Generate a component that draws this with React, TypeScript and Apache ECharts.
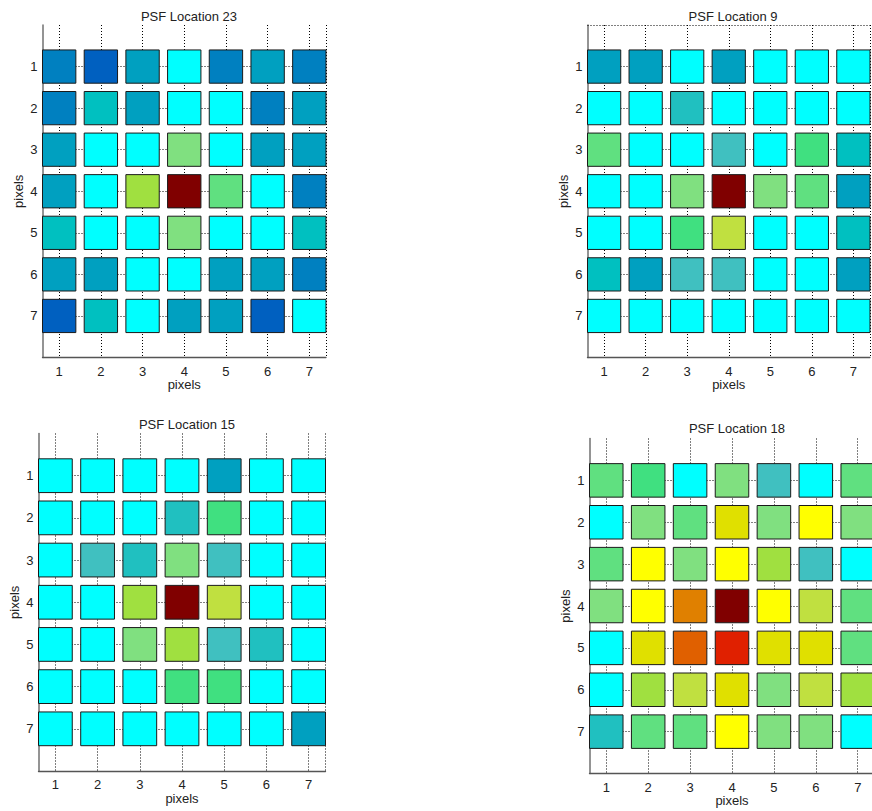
import React, { useEffect, useRef } from "react";
import * as echarts from "echarts";

// ---- data ----
const TICKS = [1, 2, 3, 4, 5, 6, 7];
const X_GRID = [1, 2, 3, 4, 5, 6, 7, 7.4];
const Y_GRID = [1, 2, 3, 4, 5, 6, 7];
const TITLES = ["PSF Location 23", "PSF Location 9", "PSF Location 15", "PSF Location 18"];
// colour levels, low -> high (quantised jet-like palette)
const PALETTE = [
  "#0060C0", "#0080C0", "#00A0C0", "#00C0C0", "#20C0C0", "#40C0C0",
  "#00FFFF", "#40E080", "#60E080", "#80E080", "#A0E040", "#C0E040",
  "#E0E000", "#FFFF00", "#E08000", "#E06000", "#E02000", "#800000",
];
// rows 1..7 (top to bottom), columns 1..7
const LOC23 = [
  [1, 0, 2, 6, 1, 2, 1],
  [1, 3, 2, 6, 6, 1, 2],
  [2, 6, 6, 9, 6, 2, 2],
  [2, 6, 10, 17, 8, 6, 1],
  [3, 6, 6, 9, 6, 6, 3],
  [2, 2, 6, 6, 2, 2, 1],
  [0, 3, 6, 2, 2, 0, 6],
];
const LOC9 = [
  [2, 2, 6, 2, 6, 6, 6],
  [6, 6, 4, 6, 6, 6, 6],
  [8, 6, 6, 5, 6, 7, 3],
  [6, 6, 9, 17, 9, 8, 2],
  [6, 6, 7, 11, 6, 6, 3],
  [3, 2, 5, 5, 6, 6, 2],
  [6, 6, 6, 6, 6, 6, 6],
];
const LOC15 = [
  [6, 6, 6, 6, 2, 6, 6],
  [6, 6, 6, 4, 7, 6, 6],
  [6, 5, 4, 9, 5, 6, 6],
  [6, 6, 10, 17, 11, 6, 6],
  [6, 6, 9, 10, 5, 4, 6],
  [6, 6, 6, 7, 7, 6, 6],
  [6, 6, 6, 6, 6, 6, 2],
];
const LOC18 = [
  [8, 7, 6, 9, 5, 6, 8],
  [6, 9, 8, 12, 9, 13, 9],
  [8, 13, 9, 13, 10, 5, 6],
  [9, 13, 14, 17, 13, 11, 8],
  [6, 12, 15, 16, 12, 12, 8],
  [6, 10, 11, 12, 9, 11, 10],
  [4, 8, 8, 13, 9, 9, 6],
];
const PANELS = [LOC23, LOC9, LOC15, LOC18];
const TOP_GRID = [false, true, false, false];

// ---- layout ----
const GRIDS = [
  { left: 42.5, top: 25, width: 283.5, height: 332.5 },
  { left: 587.5, top: 25, width: 282.5, height: 332.5 },
  { left: 38.5, top: 433.5, width: 287, height: 337.5 },
  { left: 589.5, top: 438.5, width: 285, height: 335 },
];
const TITLE_POS = [
  { x: 184, y: 5 },
  { x: 728, y: 5 },
  { x: 182, y: 413 },
  { x: 732, y: 417 },
];
const FONT = "'Liberation Sans', Arial, sans-serif";

function toCells(m: number[][]) {
  const out: number[][] = [];
  m.forEach((row, r) => row.forEach((v, c) => out.push([c + 1, r + 1, v])));
  return out;
}

export default function App() {
  const ref = useRef<HTMLDivElement>(null);
  useEffect(() => {
    if (!ref.current) return;
    const chart = echarts.init(ref.current, null, { renderer: "svg" });
    const series: any[] = [];
    PANELS.forEach((m, i) => {
      const yLines = TOP_GRID[i] ? [0, ...Y_GRID] : Y_GRID;
      series.push({
        type: "custom",
        xAxisIndex: i,
        yAxisIndex: i,
        z: 3,
        data: toCells(m),
        encode: { x: 0, y: 1 },
        renderItem: (params: any, api: any) => {
          const x = api.value(0);
          const y = api.value(1);
          const p0 = api.coord([x - 0.4, y - 0.4]);
          const p1 = api.coord([x + 0.4, y + 0.4]);
          return {
            type: "rect",
            shape: {
              x: Math.min(p0[0], p1[0]),
              y: Math.min(p0[1], p1[1]),
              width: Math.abs(p1[0] - p0[0]),
              height: Math.abs(p1[1] - p0[1]),
            },
            style: { fill: api.visual("color"), stroke: "#1a1a1a", lineWidth: 1 },
          };
        },
        markLine: {
          z: 1,
          silent: true,
          symbol: ["none", "none"],
          label: { show: false },
          emphasis: { disabled: true },
          lineStyle: { color: "#000", type: [1, 2], width: 1 },
          data: [
            ...X_GRID.map((v) => ({ xAxis: v })),
            ...yLines.map((v) => ({ yAxis: v })),
          ],
        },
      });
    });

    const option: any = {
      animation: false,
      backgroundColor: "#fff",
      title: TITLES.map((t, i) => ({
        text: t,
        left: TITLE_POS[i].x,
        top: TITLE_POS[i].y,
        textAlign: "center",
        textStyle: { fontFamily: FONT, fontSize: 13, fontWeight: "normal", color: "#222" },
      })),
      grid: GRIDS.map((g) => ({ ...g, containLabel: false, outerBoundsMode: "none" })),
      xAxis: GRIDS.map((_, i) => ({
        type: "value",
        gridIndex: i,
        position: "bottom",
        min: 0.6,
        max: 7.4,
        name: "pixels",
        nameLocation: "middle",
        nameGap: 20,
        nameTextStyle: { fontFamily: FONT, fontSize: 13, color: "#222" },
        axisLine: { show: true, onZero: false, lineStyle: { color: "#555", width: 1.3 } },
        axisTick: { show: false },
        splitLine: { show: false },
        axisLabel: {
          customValues: TICKS,
          margin: 7,
          fontFamily: FONT,
          fontSize: 13,
          color: "#222",
        },
      })),
      yAxis: GRIDS.map((_, i) => ({
        type: "value",
        gridIndex: i,
        position: "left",
        min: 0,
        max: 8,
        inverse: true,
        name: "pixels",
        nameLocation: "middle",
        nameGap: 18,
        nameTextStyle: { fontFamily: FONT, fontSize: 13, color: "#222" },
        axisLine: { show: true, onZero: false, lineStyle: { color: "#707070", width: 1.5 } },
        axisTick: { show: false },
        splitLine: { show: false },
        axisLabel: {
          customValues: TICKS,
          margin: 5,
          fontFamily: FONT,
          fontSize: 13,
          color: "#222",
        },
      })),
      visualMap: {
        type: "piecewise",
        show: false,
        dimension: 2,
        seriesIndex: [0, 1, 2, 3],
        pieces: PALETTE.map((c, k) => ({ value: k, color: c })),
      },
      series,
    };
    chart.setOption(option);
    return () => chart.dispose();
  }, []);

  return (
    <div
      ref={ref}
      style={{ position: "absolute", left: 0, top: 0, width: 872, height: 811 }}
    />
  );
}
